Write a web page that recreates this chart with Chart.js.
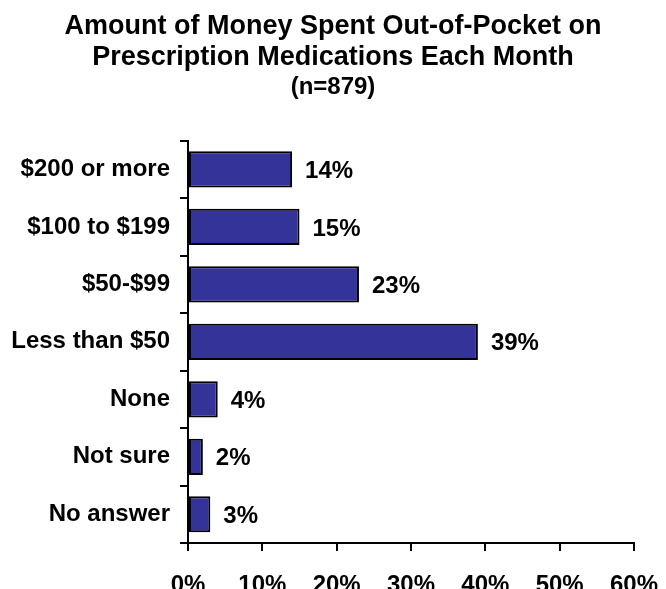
<!DOCTYPE html>
<html>
<head>
<meta charset="utf-8">
<script src="https://cdn.jsdelivr.net/npm/chart.js@4/dist/chart.umd.min.js"></script>
<style>
  html, body { margin: 0; padding: 0; background: #fff; overflow: hidden; }
  #wrap { width: 666px; height: 620px; }
</style>
</head>
<body>
<div id="wrap"><canvas id="spendChart"></canvas></div>
<script>
// data
const categories = ['$200 or more', '$100 to $199', '$50-$99', 'Less than $50', 'None', 'Not sure', 'No answer'];
const percentValues = [14, 15, 23, 39, 4, 2, 3];
const xTicks = [0, 10, 20, 30, 40, 50, 60];

const fontFamily = "'Liberation Sans', Arial, Helvetica, sans-serif";

// labels to the right of each bar
const valueLabels = {
    id: 'valueLabels',
    afterDatasetsDraw(chart) {
        const ctx = chart.ctx;
        const meta = chart.getDatasetMeta(0);
        ctx.save();
        ctx.font = 'bold 24px ' + fontFamily;
        ctx.fillStyle = '#000';
        ctx.textAlign = 'left';
        ctx.textBaseline = 'middle';
        meta.data.forEach((bar, i) => {
            ctx.fillText(percentValues[i] + '%', bar.x + 13, bar.y + 2);
        });
        ctx.restore();
    }
};

new Chart(document.getElementById('spendChart'), {
    type: 'bar',
    data: {
        labels: categories,
        datasets: [{
            data: percentValues,
            backgroundColor: '#333399',
            borderColor: '#000',
            borderWidth: 2,
            borderSkipped: false,
            categoryPercentage: 1,
            barPercentage: 0.63
        }]
    },
    options: {
        indexAxis: 'y',
        responsive: true,
        maintainAspectRatio: false,
        animation: false,
        layout: { padding: 0 },
        plugins: {
            legend: { display: false },
            tooltip: { enabled: false },
            title: {
                display: true,
                text: ['Amount of Money Spent Out-of-Pocket on', 'Prescription Medications Each Month'],
                color: '#000',
                font: { family: fontFamily, size: 27, weight: 'bold', lineHeight: 1.15 },
                padding: { top: 11, bottom: 0 }
            },
            subtitle: {
                display: true,
                text: '(n=879)',
                color: '#000',
                font: { family: fontFamily, size: 24, weight: 'bold', lineHeight: 1.15 },
                padding: { top: 0, bottom: 40 }
            }
        },
        scales: {
            x: {
                min: 0,
                max: 60,
                afterBuildTicks(scale) {
                    scale.ticks = xTicks.map(v => ({ value: v }));
                },
                afterFit(scale) {
                    scale.height = 77;
                    scale.paddingLeft = 0;
                    scale.paddingRight = 32;
                },
                border: { display: true, color: '#000', width: 2 },
                grid: { drawOnChartArea: false, color: '#000', lineWidth: 2, tickLength: 8 },
                ticks: {
                    color: '#000',
                    padding: 20,
                    maxRotation: 0,
                    font: { family: fontFamily, size: 24, weight: 'bold' },
                    callback: v => v + '%'
                }
            },
            y: {
                afterFit(scale) {
                    scale.width = 188;
                },
                border: { display: true, color: '#000', width: 2 },
                grid: { drawOnChartArea: false, color: '#000', lineWidth: 2, tickLength: 8, offset: true },
                ticks: {
                    color: '#000',
                    padding: 10,
                    font: { family: fontFamily, size: 24, weight: 'bold' }
                }
            }
        }
    },
    plugins: [valueLabels]
});
</script>
</body>
</html>
